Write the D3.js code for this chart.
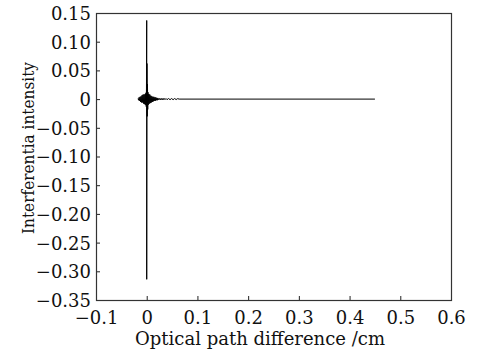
<!DOCTYPE html>
<html>
<head>
<meta charset="utf-8">
<script src="https://cdn.jsdelivr.net/npm/d3@7"></script>
<style>
  body { margin: 0; background: #fff; }
  svg { display: block; }
  text { font-family: "DejaVu Serif", "Liberation Serif", serif; fill: #111; }
</style>
</head>
<body>
<svg id="chart" width="484" height="352"></svg>
<script>
// optical path difference (cm) and interferogram intensity
const opd = [
  -0.017, -0.016, -0.015, -0.014, -0.013, -0.012, -0.011, -0.010, -0.009, -0.008,
  -0.007, -0.006, -0.005, -0.004, -0.003, -0.002, -0.0015, -0.001, -0.0005, 0,
  0, 0.0005, 0.001, 0.0015, 0.002, 0.0025, 0.003, 0.004, 0.005, 0.006,
  0.007, 0.008, 0.009, 0.010, 0.011, 0.012, 0.013, 0.014, 0.015, 0.016,
  0.017, 0.018, 0.019, 0.020, 0.021, 0.022, 0.024, 0.026, 0.028, 0.030,
  0.032, 0.034, 0.036, 0.038, 0.040, 0.043, 0.046, 0.049, 0.052, 0.055,
  0.058, 0.061, 0.064, 0.45
];
const intensity = [
  0.001, -0.002, 0.003, -0.003, 0.004, -0.005, 0.005, -0.006, 0.007, -0.006,
  0.008, -0.008, 0.008, -0.009, 0.009, -0.010, 0.011, -0.013, 0.018, 0.137,
  -0.314, 0.062, -0.030, 0.026, -0.018, 0.012, -0.010, 0.009, -0.008, 0.008,
  -0.007, 0.006, -0.006, 0.005, -0.005, 0.004, -0.004, 0.004, -0.003, 0.003,
  -0.003, 0.003, -0.002, 0.002, -0.002, 0.002, -0.0015, 0.0015, -0.0015, 0.0015,
  -0.0015, 0.0015, -0.001, 0.001, -0.001, 0.001, -0.001, 0.001, -0.001, 0.001,
  -0.0008, 0.0008, 0, 0
];
const xTicks = [-0.1, 0, 0.1, 0.2, 0.3, 0.4, 0.5, 0.6];
const yTicks = [0.15, 0.10, 0.05, 0, -0.05, -0.10, -0.15, -0.20, -0.25, -0.30, -0.35];

const svg = d3.select('#chart');
const margin = {left: 96, right: 33, top: 13, bottom: 52};
const width = 484 - margin.left - margin.right;
const height = 352 - margin.top - margin.bottom;

const x = d3.scaleLinear().domain([-0.1, 0.6]).range([0, width]);
const y = d3.scaleLinear().domain([-0.35, 0.15]).range([height, 0]);

const g = svg.append('g').attr('transform', `translate(${margin.left},${margin.top})`);

const minus = s => s.replace('-', '\u2212');
const fmtX = d => d === 0 ? '0' : minus(d3.format('.1f')(d));
const fmtY = d => d === 0 ? '0' : minus(d3.format('.2f')(d));

const xAxis = g.append('g').attr('transform', `translate(0,${height})`)
  .call(d3.axisBottom(x).tickValues(xTicks).tickSize(-4).tickPadding(11).tickFormat(fmtX));
const yAxis = g.append('g')
  .call(d3.axisLeft(y).tickValues(yTicks).tickSize(-4).tickPadding(5).tickFormat(fmtY));

[xAxis, yAxis].forEach(a => {
  a.select('.domain').remove();
  a.selectAll('line').attr('stroke', '#222');
  a.selectAll('text').attr('font-size', 18).attr('font-family', '"DejaVu Serif", serif').attr('fill', '#111');
});
xAxis.selectAll('text').attr('dy', '0.71em');
yAxis.selectAll('text').attr('dy', '0.36em');

g.append('rect')
  .attr('x', 0.5).attr('y', 0.5)
  .attr('width', width).attr('height', height)
  .attr('fill', 'none').attr('stroke', '#333').attr('stroke-width', 1.2);

const line = d3.line().x((d, i) => x(opd[i])).y(d => y(d));
g.append('path')
  .datum(intensity)
  .attr('d', line)
  .attr('fill', 'none')
  .attr('stroke', '#000')
  .attr('stroke-width', 1);

svg.append('text')
  .attr('x', 260).attr('y', 345)
  .attr('text-anchor', 'middle')
  .attr('font-size', 18)
  .attr('textLength', 250)
  .attr('lengthAdjust', 'spacingAndGlyphs')
  .text('Optical path difference /cm');

svg.append('text')
  .attr('transform', 'translate(34,148) rotate(-90)')
  .attr('text-anchor', 'middle')
  .attr('font-size', 17)
  .attr('textLength', 172)
  .attr('lengthAdjust', 'spacingAndGlyphs')
  .text('Interferentia intensity');
</script>
</body>
</html>
